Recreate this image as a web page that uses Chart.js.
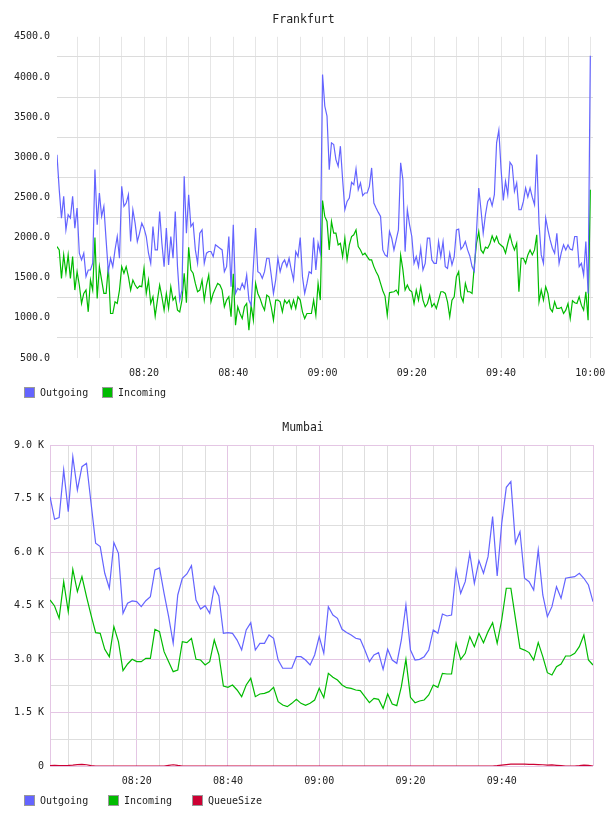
<!DOCTYPE html>
<html>
<head>
<meta charset="utf-8">
<script src="https://cdn.jsdelivr.net/npm/chart.js@4.4.1/dist/chart.umd.min.js"></script>
<style>
  body { margin: 0; background: #fff; }
  canvas { position: absolute; left: 0; }
  #frankfurt { top: 0; }
  #mumbai { top: 410px; }
  .legend {
    position: absolute;
    left: 24px;
    display: flex;
    font: 10px "DejaVu Sans Mono", monospace;
    color: #222;
    line-height: 11px;
    white-space: nowrap;
  }
  .legend .item { display: flex; align-items: center; }
  .legend .box {
    width: 11px;
    height: 11px;
    box-sizing: border-box;
    border: 1px solid #999;
    margin-right: 5px;
  }
  #frankfurtLegend { top: 387px; gap: 13.8px; }
  #mumbaiLegend { top: 795px; gap: 19.8px; }
</style>
</head>
<body>
<canvas id="frankfurt" width="608" height="410"></canvas>
<canvas id="mumbai" width="608" height="406"></canvas>
<div id="frankfurtLegend" class="legend"></div>
<div id="mumbaiLegend" class="legend"></div>
<script>
// tid i minutter etter 08:00
const frankfurtStart = 0.5;
const frankfurtStep = 0.5;

const frankfurtOutgoing = [
  3030, 2597, 2242, 2513, 2096, 2284, 2242, 2513, 2117, 2367,
  1805, 1721, 1805, 1513, 1596, 1596, 1680, 2846, 2159, 2555,
  2263, 2388, 1971, 1575, 1742, 1638, 1846, 2013, 1742, 2638,
  2388, 2429, 2533, 1950, 2346, 2179, 1950, 2054, 2179, 2117,
  2013, 1805, 1679, 2138, 1846, 1846, 2325, 1929, 1638, 2117,
  1659, 2013, 1742, 2325, 1638, 1221, 1346, 2763, 2054, 2533,
  2138, 2179, 1846, 1679, 2054, 2096, 1679, 1805, 1826, 1826,
  1763, 1909, 1888, 1867, 1846, 1575, 1638, 2013, 1388, 2159,
  1304, 1367, 1346, 1429, 1367, 1534, 1221, 1158, 1638, 2117,
  1575, 1555, 1492, 1575, 1742, 1742, 1534, 1304, 1471, 1742,
  1575, 1679, 1721, 1638, 1742, 1596, 1471, 1825, 1763, 2000,
  1513, 1304, 1429, 1575, 1555, 2000, 1596, 1929, 1805, 4030,
  3638, 3513, 2846, 3180, 3159, 2971, 2888, 3138, 2721, 2346,
  2450, 2492, 2688, 2658, 2855, 2596, 2680, 2521, 2555, 2555,
  2638, 2867, 2429, 2367, 2313, 2263, 1846, 1784, 1763, 2075,
  1992, 1846, 1971, 2096, 2930, 2721, 1825, 2346, 2159, 2013,
  1679, 1763, 1638, 1867, 1596, 1679, 1992, 1992, 1721, 1679,
  1679, 1950, 1763, 1950, 1638, 1617, 1805, 1659, 1763, 2096,
  2105, 1855, 1888, 1950, 1846, 1771, 1638, 1580, 2075, 2617,
  2346, 2054, 2284, 2450, 2492, 2396, 2534, 3180, 3338, 2855,
  2463, 2700, 2534, 2938, 2896, 2575, 2680, 2346, 2346, 2450,
  2617, 2505, 2617, 2500, 2409, 3034, 2179, 1784, 1679, 2242,
  2096, 1971, 1867, 1805, 2054, 1679, 1813, 1909, 1846, 1909,
  1855, 1846, 2013, 2013, 1638, 1679, 1534, 1950, 1304, 4263
];

const frankfurtIncoming = [
  1888, 1846, 1492, 1784, 1555, 1784, 1492, 1763, 1346, 1575,
  1409, 1179, 1304, 1346, 1075, 1471, 1346, 2000, 1242, 1638,
  1471, 1304, 1304, 1638, 1054, 1054, 1200, 1179, 1346, 1638,
  1555, 1638, 1513, 1346, 1471, 1409, 1367, 1396, 1388, 1617,
  1304, 1471, 1179, 1263, 1021, 1221, 1409, 1263, 1096, 1304,
  1117, 1388, 1221, 1263, 1096, 1075, 1221, 1555, 1188, 1880,
  1596, 1555, 1429, 1325, 1346, 1471, 1221, 1409, 1534, 1200,
  1304, 1367, 1429, 1409, 1346, 1138, 1221, 1263, 1013, 1550,
  909, 1138, 1054, 992, 1138, 1179, 846, 1158, 971, 1429,
  1304, 1242, 1158, 1096, 1283, 1263, 1138, 971, 1221, 1221,
  1200, 1075, 1221, 1179, 1221, 1117, 1221, 1117, 1263, 1221,
  1075, 992, 1054, 1054, 1054, 1221, 1033, 1429, 1221, 2460,
  2263, 2200, 1846, 2200, 2054, 2054, 1909, 1929, 1763, 1992,
  1721, 1909, 2013, 2034, 2096, 1888, 1846, 1784, 1805, 1763,
  1721, 1721, 1638, 1575, 1521, 1429, 1338, 1271, 1033, 1313,
  1321, 1325, 1346, 1296, 1780, 1600, 1346, 1409, 1346, 1325,
  1179, 1346, 1221, 1388, 1221, 1138, 1179, 1283, 1138, 1179,
  1117, 1221, 1325, 1325, 1304, 1200, 1013, 1221, 1263, 1513,
  1575, 1271, 1200, 1430, 1325, 1325, 1304, 1646, 1929, 2075,
  1846, 1805, 1880, 1867, 1921, 2021, 1950, 2013, 1929, 1905,
  1880, 1805, 1929, 2034, 1921, 1846, 1929, 1325, 1742, 1742,
  1679, 1784, 1846, 1784, 1846, 2034, 1200, 1346, 1221, 1388,
  1304, 1117, 1075, 1200, 1117, 1117, 1130, 1054, 1096, 1179,
  992, 1213, 1188, 1179, 1263, 1158, 1096, 1325, 971, 2596
];

// Mumbai: ett punkt per minutt fra 08:01
const mumbaiStart = 1;
const mumbaiStep = 1;

const mumbaiOutgoing = [
  7551, 6917, 6963, 8300, 7131, 8673, 7739, 8393, 8487, 7366,
  6245, 6151, 5404, 4983, 6263, 5964, 4282, 4562, 4627, 4608,
  4467, 4635, 4748, 5496, 5552, 4842, 4187, 3440, 4795, 5263,
  5384, 5617, 4655, 4402, 4495, 4282, 5028, 4767, 3720, 3738,
  3720, 3530, 3253, 3814, 4018, 3253, 3440, 3440, 3673, 3580,
  2972, 2740, 2740, 2740, 3065, 3065, 2972, 2832, 3112, 3626,
  3159, 4467, 4234, 4140, 3833, 3740, 3673, 3580, 3552, 3253,
  2925, 3112, 3178, 2711, 3272, 2972, 2878, 3533, 4514, 3253,
  2972, 2990, 3065, 3253, 3814, 3720, 4262, 4206, 4234, 5496,
  4842, 5168, 5964, 5123, 5757, 5404, 5870, 6991, 5328, 6805,
  7814, 7972, 6245, 6570, 5263, 5168, 4935, 6057, 4795, 4187,
  4467, 5028, 4702, 5263, 5291, 5310, 5404, 5263, 5075, 4608
];

const mumbaiIncoming = [
  4655, 4486, 4140, 5168, 4327, 5515, 4888, 5309, 4748, 4230,
  3738, 3720, 3272, 3065, 3906, 3486, 2673, 2860, 2991, 2926,
  2926, 3019, 3019, 3833, 3768, 3206, 2926, 2645, 2692, 3486,
  3458, 3580, 2991, 2972, 2832, 2926, 3533, 3112, 2243, 2206,
  2271, 2131, 1944, 2271, 2459, 1944, 2019, 2037, 2084, 2206,
  1803, 1710, 1663, 1757, 1869, 1757, 1700, 1760, 1850, 2178,
  1916, 2599, 2487, 2412, 2271, 2196, 2178, 2131, 2112, 1944,
  1775, 1897, 1869, 1617, 2019, 1738, 1691, 2224, 2991, 1925,
  1775, 1822, 1850, 1991, 2271, 2206, 2599, 2580, 2580, 3440,
  2991, 3159, 3626, 3346, 3720, 3458, 3768, 4018, 3440, 4100,
  4983, 4983, 4140, 3300, 3250, 3180, 2972, 3458, 3065, 2617,
  2552, 2786, 2860, 3084, 3084, 3159, 3346, 3673, 2972, 2832
];

const mumbaiQueueSize = [
  10, 15, 10, 10, 15, 25, 40, 45, 35, 10,
  0, 0, 0, 0, 0, 0, 0, 0, 0, 0,
  0, 0, 0, 0, 0, 0, 20, 35, 15, 0,
  0, 0, 0, 0, 0, 0, 0, 0, 0, 0,
  0, 0, 0, 0, 0, 0, 0, 0, 0, 0,
  0, 0, 0, 0, 0, 0, 0, 0, 0, 0,
  0, 0, 0, 0, 0, 0, 0, 0, 0, 0,
  0, 0, 0, 0, 0, 0, 0, 0, 0, 0,
  0, 0, 0, 0, 0, 0, 0, 0, 0, 0,
  0, 0, 0, 0, 0, 0, 0, 0, 10, 25,
  40, 50, 55, 55, 50, 45, 45, 40, 35, 25,
  30, 20, 10, 0, 0, 0, 10, 25, 15, 0
];

// tekstene på aksene
const frankfurtTimeLabels = ['08:20', '08:40', '09:00', '09:20', '09:40', '10:00'];
const mumbaiTimeLabels = ['08:20', '08:40', '09:00', '09:20', '09:40'];
const frankfurtValueLabels = ['500.0', '1000.0', '1500.0', '2000.0', '2500.0', '3000.0', '3500.0', '4000.0', '4500.0'];
const mumbaiValueLabels = ['0', '1.5 K', '3.0 K', '4.5 K', '6.0 K', '7.5 K', '9.0 K'];

const blue = '#6464ff';
const green = '#00bb00';
const red = '#cc0033';
const purple = '#e4c6e4';
const gray = '#dedede';

Chart.defaults.font.family = '"DejaVu Sans Mono", monospace';
Chart.defaults.font.size = 10;
Chart.defaults.color = '#222';

function points(start, step, values) {
  return values.map((v, i) => ({ x: start + i * step, y: v }));
}

function timeText(minutes) {
  const h = 8 + Math.floor(minutes / 60);
  const m = minutes % 60;
  return String(h).padStart(2, '0') + ':' + String(m).padStart(2, '0');
}

function timeCallback(labels) {
  return function (value) {
    if (value % 20 !== 0) return '';
    const text = timeText(value);
    return labels.includes(text) ? text : '';
  };
}

// ikke la siste tidsetikett krympe plottet
function xAxisFit(scale) {
  scale.paddingLeft = 0;
  scale.paddingRight = 0;
  scale.height = 24;
}

// legenden lages som vanlig html under hvert diagram
function htmlLegend(chart, id) {
  const holder = document.getElementById(id);
  chart.data.datasets.forEach(ds => {
    const item = document.createElement('span');
    item.className = 'item';
    const box = document.createElement('span');
    box.className = 'box';
    box.style.background = ds.borderColor;
    item.appendChild(box);
    item.appendChild(document.createTextNode(ds.label));
    holder.appendChild(item);
  });
}

function lineSet(label, color, data) {
  return {
    label: label,
    data: data,
    borderColor: color,
    backgroundColor: color,
    borderWidth: 1.2,
    pointRadius: 0,
    tension: 0
  };
}

// Frankfurt
const frankfurtChart = new Chart(document.getElementById('frankfurt'), {
  type: 'line',
  data: {
    datasets: [
      lineSet('Outgoing', blue, points(frankfurtStart, frankfurtStep, frankfurtOutgoing)),
      lineSet('Incoming', green, points(frankfurtStart, frankfurtStep, frankfurtIncoming))
    ]
  },
  options: {
    responsive: false,
    animation: false,
    devicePixelRatio: 1,
    layout: { padding: { left: 14, right: 15, top: 0, bottom: 28 } },
    plugins: {
      title: {
        display: true,
        text: 'Frankfurt',
        color: '#222',
        font: { size: 11.5, weight: 'normal' },
        padding: { top: 13, bottom: 10 }
      },
      legend: { display: false },
      tooltip: { enabled: false }
    },
    scales: {
      x: {
        type: 'linear',
        min: 0.5,
        max: 120.6,
        afterFit: xAxisFit,
        border: { display: false },
        grid: { color: '#e6e6e6', drawTicks: false },
        ticks: {
          stepSize: 5,
          includeBounds: false,
          autoSkip: false,
          maxRotation: 0,
          padding: 9,
          callback: timeCallback(frankfurtTimeLabels)
        }
      },
      y: {
        min: 500,
        max: 4500,
        afterFit: function (scale) { scale.width = 43; },
        border: { display: false },
        grid: {
          drawTicks: false,
          color: c => c.tick.value % 500 === 250 ? '#dcdcdc' : 'rgba(0,0,0,0)'
        },
        ticks: {
          stepSize: 250,
          autoSkip: false,
          padding: 7,
          callback: v => v % 500 === 0 ? frankfurtValueLabels[(v - 500) / 500] : ''
        }
      }
    }
  }
});
htmlLegend(frankfurtChart, 'frankfurtLegend');

// Mumbai
const mumbaiChart = new Chart(document.getElementById('mumbai'), {
  type: 'line',
  data: {
    datasets: [
      lineSet('Outgoing', blue, points(mumbaiStart, mumbaiStep, mumbaiOutgoing)),
      lineSet('Incoming', green, points(mumbaiStart, mumbaiStep, mumbaiIncoming)),
      lineSet('QueueSize', red, points(mumbaiStart, mumbaiStep, mumbaiQueueSize))
    ]
  },
  options: {
    responsive: false,
    animation: false,
    devicePixelRatio: 1,
    layout: { padding: { left: 13, right: 15, top: 0, bottom: 26 } },
    plugins: {
      title: {
        display: true,
        text: 'Mumbai',
        color: '#222',
        font: { size: 11.5, weight: 'normal' },
        padding: { top: 11.6, bottom: 9.6 }
      },
      legend: { display: false },
      tooltip: { enabled: false }
    },
    scales: {
      x: {
        type: 'linear',
        min: 1,
        max: 120,
        afterFit: xAxisFit,
        border: { display: false },
        grid: {
          drawTicks: false,
          color: c => c.tick.value % 20 === 0 ? purple : gray
        },
        ticks: {
          stepSize: 5,
          includeBounds: false,
          autoSkip: false,
          maxRotation: 0,
          padding: 9,
          callback: timeCallback(mumbaiTimeLabels)
        }
      },
      y: {
        min: 0,
        max: 9000,
        afterFit: function (scale) { scale.width = 37; },
        border: { display: true, color: purple, width: 1 },
        grid: {
          drawTicks: false,
          color: c => c.tick.value % 1500 === 0 ? purple : gray
        },
        ticks: {
          stepSize: 750,
          autoSkip: false,
          padding: 6,
          callback: v => v % 1500 === 0 ? mumbaiValueLabels[v / 1500] : ''
        }
      }
    }
  }
});
htmlLegend(mumbaiChart, 'mumbaiLegend');
</script>
</body>
</html>
